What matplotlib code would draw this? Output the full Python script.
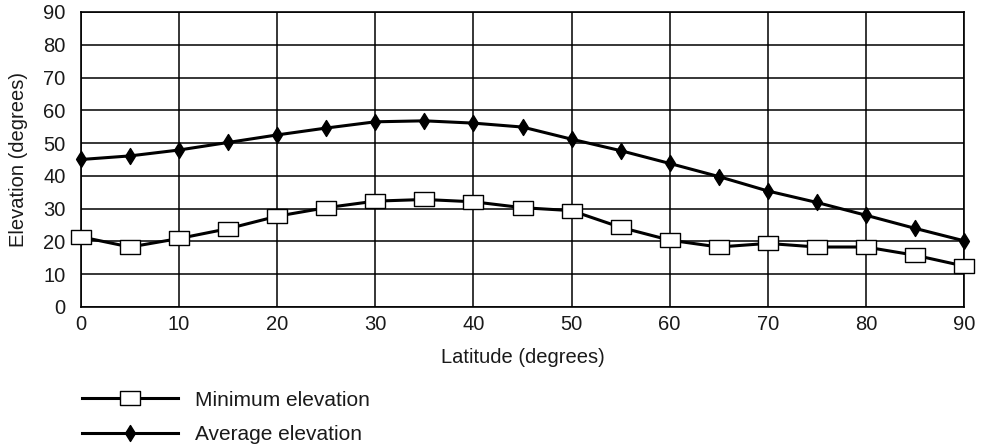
import matplotlib
matplotlib.use("Agg")
import matplotlib.pyplot as plt
from matplotlib.path import Path

plt.rcParams['font.family'] = ['Liberation Sans', 'DejaVu Sans']

latitude = [0, 5, 10, 15, 20, 25, 30, 35, 40, 45, 50, 55, 60, 65, 70, 75, 80, 85, 90]
minimum_elev = [21.4, 18.3, 20.9, 23.9, 27.7, 30.3, 32.3, 32.8, 32.1, 30.3, 29.4, 24.3,
                20.4, 18.3, 19.4, 18.3, 18.3, 15.8, 12.5]
average_elev = [45.0, 46.1, 47.9, 50.2, 52.5, 54.6, 56.5, 56.8, 56.1, 54.9, 51.2, 47.7,
                43.8, 39.8, 35.4, 31.9, 28.0, 24.0, 20.2]
x_ticks = list(range(0, 91, 10))
y_ticks = list(range(0, 91, 10))

rect_marker = Path([(-1.45, -1), (1.45, -1), (1.45, 1), (-1.45, 1), (-1.45, -1)],
                   [Path.MOVETO, Path.LINETO, Path.LINETO, Path.LINETO, Path.CLOSEPOLY])
diamond_marker = Path([(0, -1), (0.62, 0), (0, 1), (-0.62, 0), (0, -1)],
                      [Path.MOVETO, Path.LINETO, Path.LINETO, Path.LINETO, Path.CLOSEPOLY])

txt = '#1a1a1a'
fs = 14.5

fig = plt.figure(figsize=(9.81, 4.48), dpi=100)
ax = fig.add_axes([81/981, 1-307/448, (964-81)/981, (307-12)/448])

ax.plot(latitude, average_elev, color='black', lw=2.2, marker=diamond_marker, markersize=11.5,
        markerfacecolor='black', markeredgecolor='black', label='Average elevation', zorder=3,
        clip_on=False)
ax.plot(latitude, minimum_elev, color='black', lw=2.2, marker=rect_marker, markersize=14,
        markerfacecolor='white', markeredgecolor='black', markeredgewidth=1.0,
        label='Minimum elevation', zorder=4, clip_on=False)

ax.set_xlim(0, 90)
ax.set_ylim(0, 90)
ax.set_xticks(x_ticks)
ax.set_yticks(y_ticks)
ax.grid(True, color='black', lw=1.1)
ax.set_axisbelow(True)
for s in ax.spines.values():
    s.set_color('black')
    s.set_linewidth(1.2)
ax.tick_params(length=0, labelsize=fs, colors=txt)
ax.tick_params(axis='x', pad=6)
ax.tick_params(axis='y', pad=11)
ax.set_xlabel('Latitude (degrees)', fontsize=fs, labelpad=10, color=txt)
ax.set_ylabel('Elevation (degrees)', fontsize=fs, labelpad=11, color=txt)

h, l = ax.get_legend_handles_labels()
leg = fig.legend([h[1], h[0]], [l[1], l[0]], loc='upper left', bbox_to_anchor=(0.084, 0.128),
                 frameon=False, fontsize=15, handlelength=4.6, numpoints=1,
                 labelspacing=0.75, handletextpad=0.8, borderaxespad=0, borderpad=0)
for t in leg.get_texts():
    t.set_color(txt)

fig.savefig('out.png', dpi=100)
